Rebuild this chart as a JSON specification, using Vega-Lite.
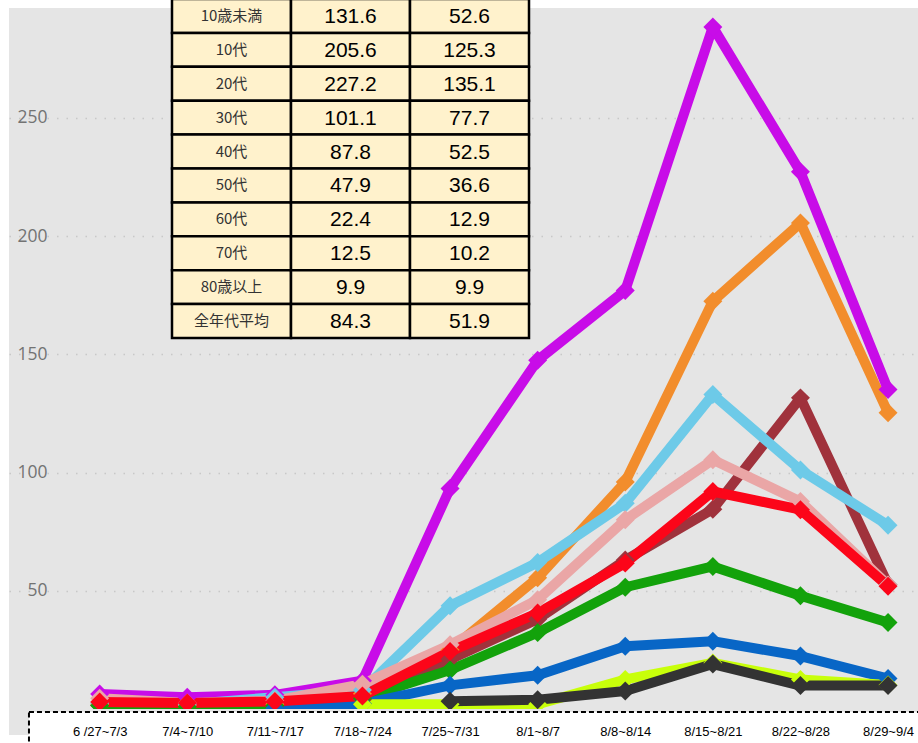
{
  "$schema": "https://vega.github.io/schema/vega-lite/v6.json",
  "width": 909,
  "height": 701,
  "padding": {"left": 9, "top": 8, "right": 0, "bottom": 34},
  "autosize": {"type": "none"},
  "background": "white",
  "config": {
    "view": {"fill": "#e5e5e5", "stroke": null},
    "font": "Open Sans"
  },
  "datasets": {
    "weekly": [
      {"age": "10歳未満", "idx": 0, "week": "6/27~7/3", "value": 1.5},
      {"age": "10歳未満", "idx": 1, "week": "7/4~7/10", "value": 1.0},
      {"age": "10歳未満", "idx": 2, "week": "7/11~7/17", "value": 1.2},
      {"age": "10歳未満", "idx": 3, "week": "7/18~7/24", "value": 4.0},
      {"age": "10歳未満", "idx": 4, "week": "7/25~7/31", "value": 21.0},
      {"age": "10歳未満", "idx": 5, "week": "8/1~8/7", "value": 38.0},
      {"age": "10歳未満", "idx": 6, "week": "8/8~8/14", "value": 63.0},
      {"age": "10歳未満", "idx": 7, "week": "8/15~8/21", "value": 84.5},
      {"age": "10歳未満", "idx": 8, "week": "8/22~8/28", "value": 131.6},
      {"age": "10歳未満", "idx": 9, "week": "8/29~9/4", "value": 52.6},
      {"age": "10代", "idx": 0, "week": "6/27~7/3", "value": 2.0},
      {"age": "10代", "idx": 1, "week": "7/4~7/10", "value": 1.5},
      {"age": "10代", "idx": 2, "week": "7/11~7/17", "value": 2.0},
      {"age": "10代", "idx": 3, "week": "7/18~7/24", "value": 6.5},
      {"age": "10代", "idx": 4, "week": "7/25~7/31", "value": 25.0},
      {"age": "10代", "idx": 5, "week": "8/1~8/7", "value": 55.5},
      {"age": "10代", "idx": 6, "week": "8/8~8/14", "value": 96.0},
      {"age": "10代", "idx": 7, "week": "8/15~8/21", "value": 172.5},
      {"age": "10代", "idx": 8, "week": "8/22~8/28", "value": 205.6},
      {"age": "10代", "idx": 9, "week": "8/29~9/4", "value": 125.3},
      {"age": "20代", "idx": 0, "week": "6/27~7/3", "value": 6.3},
      {"age": "20代", "idx": 1, "week": "7/4~7/10", "value": 5.0},
      {"age": "20代", "idx": 2, "week": "7/11~7/17", "value": 6.0},
      {"age": "20代", "idx": 3, "week": "7/18~7/24", "value": 12.0},
      {"age": "20代", "idx": 4, "week": "7/25~7/31", "value": 93.3},
      {"age": "20代", "idx": 5, "week": "8/1~8/7", "value": 147.5},
      {"age": "20代", "idx": 6, "week": "8/8~8/14", "value": 177.0},
      {"age": "20代", "idx": 7, "week": "8/15~8/21", "value": 288.5},
      {"age": "20代", "idx": 8, "week": "8/22~8/28", "value": 227.2},
      {"age": "20代", "idx": 9, "week": "8/29~9/4", "value": 135.1},
      {"age": "30代", "idx": 0, "week": "6/27~7/3", "value": 2.5},
      {"age": "30代", "idx": 1, "week": "7/4~7/10", "value": 2.0},
      {"age": "30代", "idx": 2, "week": "7/11~7/17", "value": 5.0},
      {"age": "30代", "idx": 3, "week": "7/18~7/24", "value": 8.0},
      {"age": "30代", "idx": 4, "week": "7/25~7/31", "value": 43.7},
      {"age": "30代", "idx": 5, "week": "8/1~8/7", "value": 62.0},
      {"age": "30代", "idx": 6, "week": "8/8~8/14", "value": 87.0},
      {"age": "30代", "idx": 7, "week": "8/15~8/21", "value": 133.0},
      {"age": "30代", "idx": 8, "week": "8/22~8/28", "value": 101.1},
      {"age": "30代", "idx": 9, "week": "8/29~9/4", "value": 77.7},
      {"age": "40代", "idx": 0, "week": "6/27~7/3", "value": 4.5},
      {"age": "40代", "idx": 1, "week": "7/4~7/10", "value": 2.5},
      {"age": "40代", "idx": 2, "week": "7/11~7/17", "value": 3.5},
      {"age": "40代", "idx": 3, "week": "7/18~7/24", "value": 10.5},
      {"age": "40代", "idx": 4, "week": "7/25~7/31", "value": 27.2},
      {"age": "40代", "idx": 5, "week": "8/1~8/7", "value": 46.2},
      {"age": "40代", "idx": 6, "week": "8/8~8/14", "value": 80.0},
      {"age": "40代", "idx": 7, "week": "8/15~8/21", "value": 105.4},
      {"age": "40代", "idx": 8, "week": "8/22~8/28", "value": 87.8},
      {"age": "40代", "idx": 9, "week": "8/29~9/4", "value": 52.5},
      {"age": "50代", "idx": 0, "week": "6/27~7/3", "value": 1.5},
      {"age": "50代", "idx": 1, "week": "7/4~7/10", "value": 1.0},
      {"age": "50代", "idx": 2, "week": "7/11~7/17", "value": 1.5},
      {"age": "50代", "idx": 3, "week": "7/18~7/24", "value": 4.5},
      {"age": "50代", "idx": 4, "week": "7/25~7/31", "value": 16.5},
      {"age": "50代", "idx": 5, "week": "8/1~8/7", "value": 32.3},
      {"age": "50代", "idx": 6, "week": "8/8~8/14", "value": 51.5},
      {"age": "50代", "idx": 7, "week": "8/15~8/21", "value": 60.3},
      {"age": "50代", "idx": 8, "week": "8/22~8/28", "value": 47.9},
      {"age": "50代", "idx": 9, "week": "8/29~9/4", "value": 36.6},
      {"age": "60代", "idx": 2, "week": "7/11~7/17", "value": 0.3},
      {"age": "60代", "idx": 3, "week": "7/18~7/24", "value": 2.2},
      {"age": "60代", "idx": 4, "week": "7/25~7/31", "value": 10.0},
      {"age": "60代", "idx": 5, "week": "8/1~8/7", "value": 14.3},
      {"age": "60代", "idx": 6, "week": "8/8~8/14", "value": 26.5},
      {"age": "60代", "idx": 7, "week": "8/15~8/21", "value": 28.7},
      {"age": "60代", "idx": 8, "week": "8/22~8/28", "value": 22.4},
      {"age": "60代", "idx": 9, "week": "8/29~9/4", "value": 12.9},
      {"age": "70代", "idx": 3, "week": "7/18~7/24", "value": 2.0},
      {"age": "70代", "idx": 4, "week": "7/25~7/31", "value": 2.0},
      {"age": "70代", "idx": 5, "week": "8/1~8/7", "value": 2.0},
      {"age": "70代", "idx": 6, "week": "8/8~8/14", "value": 12.5},
      {"age": "70代", "idx": 7, "week": "8/15~8/21", "value": 19.5},
      {"age": "70代", "idx": 8, "week": "8/22~8/28", "value": 12.5},
      {"age": "70代", "idx": 9, "week": "8/29~9/4", "value": 10.2},
      {"age": "80歳以上", "idx": 4, "week": "7/25~7/31", "value": 3.3},
      {"age": "80歳以上", "idx": 5, "week": "8/1~8/7", "value": 3.9},
      {"age": "80歳以上", "idx": 6, "week": "8/8~8/14", "value": 7.6},
      {"age": "80歳以上", "idx": 7, "week": "8/15~8/21", "value": 19.0},
      {"age": "80歳以上", "idx": 8, "week": "8/22~8/28", "value": 9.9},
      {"age": "80歳以上", "idx": 9, "week": "8/29~9/4", "value": 9.9},
      {"age": "全年代平均", "idx": 0, "week": "6/27~7/3", "value": 3.0},
      {"age": "全年代平均", "idx": 1, "week": "7/4~7/10", "value": 2.5},
      {"age": "全年代平均", "idx": 2, "week": "7/11~7/17", "value": 3.2},
      {"age": "全年代平均", "idx": 3, "week": "7/18~7/24", "value": 5.5},
      {"age": "全年代平均", "idx": 4, "week": "7/25~7/31", "value": 24.3},
      {"age": "全年代平均", "idx": 5, "week": "8/1~8/7", "value": 40.6},
      {"age": "全年代平均", "idx": 6, "week": "8/8~8/14", "value": 61.7},
      {"age": "全年代平均", "idx": 7, "week": "8/15~8/21", "value": 92.0},
      {"age": "全年代平均", "idx": 8, "week": "8/22~8/28", "value": 84.3},
      {"age": "全年代平均", "idx": 9, "week": "8/29~9/4", "value": 51.9}
    ],
    "table": [
      {"age": "10歳未満", "v1": 131.6, "v2": 52.6},
      {"age": "10代", "v1": 205.6, "v2": 125.3},
      {"age": "20代", "v1": 227.2, "v2": 135.1},
      {"age": "30代", "v1": 101.1, "v2": 77.7},
      {"age": "40代", "v1": 87.8, "v2": 52.5},
      {"age": "50代", "v1": 47.9, "v2": 36.6},
      {"age": "60代", "v1": 22.4, "v2": 12.9},
      {"age": "70代", "v1": 12.5, "v2": 10.2},
      {"age": "80歳以上", "v1": 9.9, "v2": 9.9},
      {"age": "全年代平均", "v1": 84.3, "v2": 51.9}
    ]
  },
  "layer": [
    {
      "layer": [
        {
          "data": {"name": "weekly"},
          "mark": {"type": "line", "strokeWidth": 10, "strokeJoin": "round", "clip": true},
          "encoding": {
            "x": {
              "field": "idx", "type": "quantitative",
              "scale": {"domain": [-1.035, 9.342], "nice": false, "zero": false},
              "axis": {
                "values": [0, 1, 2, 3, 4, 5, 6, 7, 8, 9],
                "labelExpr": "['6 /27~7/3','7/4~7/10','7/11~7/17','7/18~7/24','7/25~7/31','8/1~8/7','8/8~8/14','8/15~8/21','8/22~8/28','8/29~9/4'][datum.value]",
                "title": null, "grid": false, "ticks": false, "tickSize": 0, "domain": false,
                "labelFont": "Liberation Sans", "labelFontSize": 13, "labelColor": "#000000",
                "labelBaseline": "middle", "labelPadding": 22.5,
                "labelOverlap": false, "labelFlush": false, "labelBound": false,
                "zindex": 1
              }
            },
            "y": {
              "field": "value", "type": "quantitative",
              "scale": {"domain": [0, 296.5], "nice": false, "zero": false},
              "axis": {
                "values": [50, 100, 150, 200, 250],
                "title": null, "ticks": false, "tickSize": 0, "domain": false,
                "offset": -38, "labelPadding": 0,
                "labelFont": "Open Sans", "labelFontSize": 17.5, "labelColor": "#737373",
                "grid": true, "gridColor": "#c8c8c8", "gridDash": [1.5, 8], "gridWidth": 1.5
              }
            },
            "color": {
              "field": "age", "type": "nominal",
              "scale": {
                "domain": ["10歳未満", "10代", "20代", "30代", "40代", "50代", "60代", "70代", "80歳以上", "全年代平均"],
                "range": ["#a0323c", "#f28d2c", "#c80ce8", "#6dcae8", "#eaa6a6", "#13a20b", "#0866c6", "#c8ff0a", "#333333", "#fc0519"]
              },
              "legend": null
            }
          }
        },
        {
          "data": {"name": "weekly"},
          "mark": {"type": "point", "shape": "diamond", "filled": true, "size": 360, "opacity": 1, "clip": true},
          "encoding": {
            "x": {"field": "idx", "type": "quantitative"},
            "y": {"field": "value", "type": "quantitative"},
            "color": {"field": "age", "type": "nominal", "legend": null}
          }
        },
        {
          "data": {"values": [{}]},
          "mark": {"type": "rect", "fill": "#e5e5e5", "clip": false},
          "encoding": {
            "x": {"datum": -1.035, "type": "quantitative"},
            "x2": {"datum": 10},
            "y": {"datum": 0, "type": "quantitative"},
            "y2": {"datum": -11}
          }
        },
        {
          "data": {"values": [{}]},
          "mark": {"type": "rect", "fill": "#ffffff", "stroke": "#000000", "strokeWidth": 2, "strokeDash": [5, 3], "clip": false},
          "encoding": {
            "x": {"datum": -0.807, "type": "quantitative"},
            "x2": {"datum": 10},
            "y": {"datum": -1.3, "type": "quantitative"},
            "y2": {"datum": -25}
          }
        }
      ]
    },
    {
      "data": {"name": "table"},
      "layer": [
        {
          "mark": {"type": "rect", "fill": "#fff2cc", "stroke": "#000000", "strokeWidth": 2.5},
          "encoding": {
            "x": {
              "datum": "label", "type": "nominal",
              "scale": {"type": "band", "domain": ["label", "v1", "v2"], "range": [163, 520], "paddingInner": 0, "paddingOuter": 0},
              "axis": null
            },
            "y": {
              "field": "age", "type": "nominal",
              "scale": {"type": "band", "domain": ["10歳未満", "10代", "20代", "30代", "40代", "50代", "60代", "70代", "80歳以上", "全年代平均"], "range": [-9, 330], "paddingInner": 0, "paddingOuter": 0},
              "axis": null
            }
          }
        },
        {
          "transform": [{"fold": ["v1", "v2"], "as": ["col", "val"]}],
          "mark": {"type": "rect", "fill": "#fff2cc", "stroke": "#000000", "strokeWidth": 2.5},
          "encoding": {
            "x": {"field": "col", "type": "nominal"},
            "y": {"field": "age", "type": "nominal"}
          }
        },
        {
          "mark": {"type": "text", "font": "Noto Sans CJK JP", "fontSize": 15, "color": "#333333"},
          "encoding": {
            "x": {"datum": "label", "type": "nominal"},
            "y": {"field": "age", "type": "nominal"},
            "text": {"field": "age"}
          }
        },
        {
          "transform": [{"fold": ["v1", "v2"], "as": ["col", "val"]}],
          "mark": {"type": "text", "font": "Liberation Sans", "fontSize": 21, "color": "#000000", "dy": 1},
          "encoding": {
            "x": {"field": "col", "type": "nominal"},
            "y": {"field": "age", "type": "nominal"},
            "text": {"field": "val", "type": "quantitative", "format": ".1f"}
          }
        }
      ]
    }
  ],
  "resolve": {"scale": {"x": "independent", "y": "independent", "color": "independent"}}
}
